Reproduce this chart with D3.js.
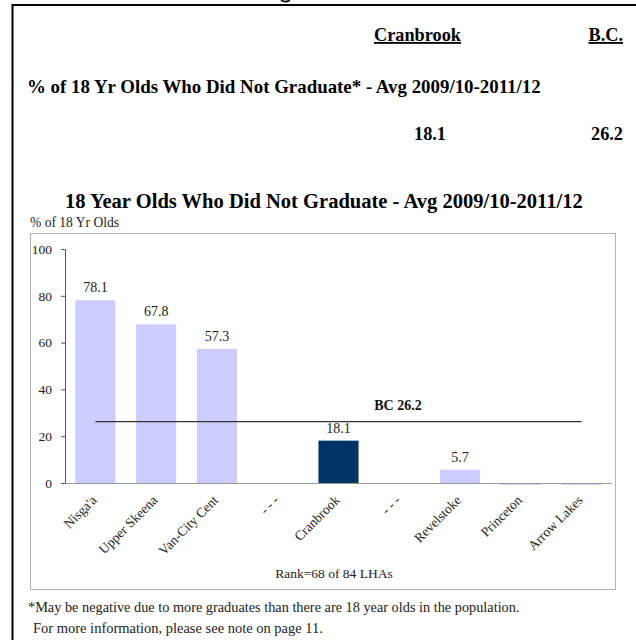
<!DOCTYPE html>
<html><head><meta charset="utf-8">
<script src="https://cdn.jsdelivr.net/npm/d3@7"></script>
<style>
html,body{margin:0;padding:0;background:#fff;}
svg{display:block;}
text{font-family:"Liberation Serif","DejaVu Serif",serif;}
</style></head>
<body>
<svg id="c" width="636" height="640"></svg>
<script>
// ---- data ----
const categories = ["Nisga'a","Upper Skeena","Van-City Cent","- - -","Cranbrook","- - -","Revelstoke","Princeton","Arrow Lakes"];
const values = [78.1, 67.8, 57.3, null, 18.1, null, 5.7, -0.8, -0.8];
const showLabel = [true, true, true, false, true, false, true, false, false];
const highlight = "Cranbrook";
const bcValue = 26.2;
const cranbrookValue = 18.1;
const yTicks = [0, 20, 40, 60, 80, 100];
const rankText = "Rank=68 of 84 LHAs";

(function(){
const svg = d3.select("#c");

function fit(sel, w) {
  const n = sel.node();
  const cur = parseFloat(sel.attr("font-size"));
  const len = n.getComputedTextLength();
  sel.attr("font-size", (cur * w / len).toFixed(2));
  return sel;
}

// outer page border (partial box)
svg.append("line").attr("x1",12.5).attr("x2",636).attr("y1",5).attr("y2",5).attr("stroke","#000").attr("stroke-width",2);
svg.append("line").attr("x1",12.5).attr("x2",12.5).attr("y1",4).attr("y2",640).attr("stroke","#000").attr("stroke-width",2);
// descender fragment of a heading cut off above the page
svg.append("path").attr("d","M281,0.2 Q285,3 290,0.2").attr("fill","none").attr("stroke","#000").attr("stroke-width",1.6);

// header table
const hCran = fit(svg.append("text").attr("x",374).attr("y",41).attr("font-size",16)
  .attr("font-weight","bold").attr("text-decoration","underline").text("Cranbrook"), 87);
const hs = hCran.attr("font-size");
svg.append("text").attr("x",623).attr("y",41).attr("text-anchor","end").attr("font-size",hs)
  .attr("font-weight","bold").attr("text-decoration","underline").text("B.C.");
fit(svg.append("text").attr("x",27).attr("y",93).attr("font-size",16).attr("font-weight","bold")
  .text("% of 18 Yr Olds Who Did Not Graduate* - Avg 2009/10-2011/12"), 514);
svg.append("text").attr("x",446).attr("y",140).attr("text-anchor","end").attr("font-size",hs)
  .attr("font-weight","bold").text(cranbrookValue.toFixed(1));
svg.append("text").attr("x",623).attr("y",140).attr("text-anchor","end").attr("font-size",hs)
  .attr("font-weight","bold").text(bcValue.toFixed(1));

// chart title
fit(svg.append("text").attr("x",65).attr("y",208).attr("font-size",18).attr("font-weight","bold")
  .attr("fill","#000").text("18 Year Olds Who Did Not Graduate - Avg 2009/10-2011/12"), 518);
fit(svg.append("text").attr("x",30).attr("y",227).attr("font-size",13).attr("fill","#222")
  .text("% of 18 Yr Olds"), 89);

// chart frame
svg.append("rect").attr("x",30.5).attr("y",233.5).attr("width",585).attr("height",356)
  .attr("fill","#fff").attr("stroke","#b4b4b4").attr("stroke-width",1);

const pL = 65, pR = 612, pT = 249, pB = 483;
const x = d3.scaleBand().domain(d3.range(categories.length)).range([pL, pR]).paddingInner(0.34).paddingOuter(0.17);
const y = d3.scaleLinear().domain([0, 100]).range([pB, pT]);

// bars
const g = svg.append("g");
g.selectAll("rect.bar").data(values.map((v,i)=>({v,i,c:categories[i]})).filter(d=>d.v!==null))
  .enter().append("rect").attr("class","bar")
  .attr("x", d => x(d.i)).attr("width", x.bandwidth())
  .attr("y", d => y(Math.max(0,d.v)))
  .attr("height", d => Math.abs(y(d.v) - y(0)))
  .attr("fill", d => d.c === highlight ? "#003366" : "#ccccff");

// value labels
g.selectAll("text.val").data(values.map((v,i)=>({v,i})).filter(d=>d.v!==null && showLabel[d.i]))
  .enter().append("text").attr("class","val")
  .attr("x", d => x(d.i) + x.bandwidth()/2).attr("y", d => y(d.v) - 8)
  .attr("text-anchor","middle").attr("font-size",14).attr("fill","#222")
  .text(d => d.v.toFixed(1));

// y axis
const ya = svg.append("g").attr("transform",`translate(${pL},0)`)
  .call(d3.axisLeft(y).tickValues(yTicks).tickSize(4).tickPadding(9).tickFormat(d3.format("d")));
ya.select(".domain").attr("stroke","#555");
ya.selectAll(".tick line").attr("stroke","#555");
ya.selectAll(".tick text").attr("font-family","Liberation Serif, serif").attr("font-size",13.5).attr("fill","#222");

// x axis
const xa = svg.append("g").attr("transform",`translate(0,${pB})`)
  .call(d3.axisBottom(x).tickSize(0).tickFormat(i => categories[i]));
xa.select(".domain").attr("stroke","#999").attr("d",`M${pL},0.5H${pR}`);
xa.selectAll(".tick text")
  .attr("font-family","Liberation Serif, serif").attr("font-size",13.5).attr("fill","#222")
  .attr("text-anchor","end").attr("dy",null).attr("y",0)
  .attr("transform","translate(2,18) rotate(-45)");

// BC reference line
svg.append("line")
  .attr("x1", x(0) + x.bandwidth()/2).attr("x2", x(categories.length-1) + x.bandwidth()/2)
  .attr("y1", y(bcValue)).attr("y2", y(bcValue))
  .attr("stroke","#333").attr("stroke-width",1.2);
svg.append("text").attr("x",398).attr("y",y(bcValue)-12).attr("text-anchor","middle")
  .attr("font-size",14).attr("font-weight","bold").attr("fill","#111").text("BC " + bcValue.toFixed(1));

// rank
svg.append("text").attr("x",334).attr("y",578).attr("text-anchor","middle")
  .attr("font-size",13.5).attr("fill","#222").text(rankText);

// footnotes
fit(svg.append("text").attr("x",28).attr("y",612).attr("font-size",14).attr("fill","#222")
  .text("*May be negative due to more graduates than there are 18 year olds in the population."), 492);
fit(svg.append("text").attr("x",33).attr("y",633).attr("font-size",14).attr("fill","#222")
  .text("For more information, please see note on page 11."), 290);
})();
</script>
</body></html>
